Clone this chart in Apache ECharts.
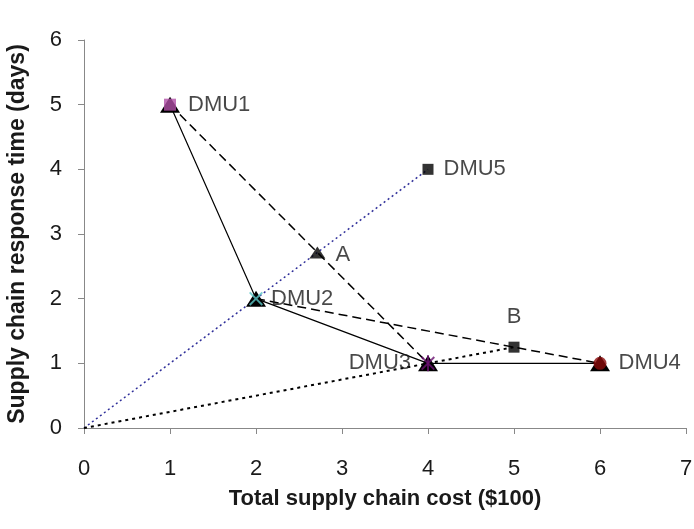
<!DOCTYPE html>
<html>
<head>
<meta charset="utf-8">
<script src="https://cdn.jsdelivr.net/npm/echarts@6/dist/echarts.min.js"></script>
<style>
  html, body { margin: 0; padding: 0; background: #fff; }
  #chart { width: 694px; height: 529px; }
</style>
</head>
<body>
<div id="chart"></div>
<script>
// DMU data (cost in $100, response time in days)
const dmuNames = ['DMU1', 'DMU2', 'DMU3', 'DMU4', 'DMU5'];
const dmuCost = [1, 2, 4, 6, 4];
const dmuTime = [5, 2, 1, 1, 4];

// projection points
const pointA = [2.714, 2.714];
const pointB = [5, 1.25];

// efficient frontier: DMU1 -> DMU2 -> DMU3 -> DMU4
const frontierIdx = [0, 1, 2, 3];

const pt = i => [dmuCost[i], dmuTime[i]];

const xShape = 'path://M0,1L1,0L5,4L9,0L10,1L6,5L10,9L9,10L5,6L1,10L0,9L4,5Z';

var myChart = echarts.init(document.getElementById('chart'));

var font = 'Liberation Sans, Arial, sans-serif';
var textStyle = { color: '#1a1a1a', fontSize: 22, fontFamily: font };

var option = {
  animation: false,
  grid: { left: 84, right: 8, top: 40, bottom: 101, outerBoundsMode: 'none' },
  xAxis: {
    type: 'value', min: 0, max: 7, interval: 1,
    name: 'Total supply chain cost ($100)',
    nameLocation: 'middle', nameGap: 60,
    nameTextStyle: { fontSize: 22, fontWeight: 'bold', color: '#1a1a1a', fontFamily: font },
    axisLine: { lineStyle: { color: '#888' } },
    axisTick: { length: 6, lineStyle: { color: '#888' } },
    axisLabel: Object.assign({ margin: 30 }, textStyle),
    splitLine: { show: false }
  },
  yAxis: {
    type: 'value', min: 0, max: 6, interval: 1,
    name: 'Supply chain response time (days)',
    nameLocation: 'middle', nameGap: 55,
    nameTextStyle: { fontSize: 23, fontWeight: 'bold', color: '#1a1a1a', fontFamily: font },
    axisLine: { show: true, lineStyle: { color: '#888' } },
    axisTick: { show: true, length: 6, lineStyle: { color: '#888' } },
    axisLabel: Object.assign({ margin: 22 }, textStyle),
    splitLine: { show: false }
  },
  series: [
    {
      // blue dotted ray from origin to DMU5
      type: 'line', symbol: 'none',
      lineStyle: { color: '#2e2e99', width: 1.5, type: [2, 3] },
      data: [[0, 0], pt(1), pointA, pt(4)]
    },
    {
      // black dotted ray from origin through DMU3 to B
      type: 'line', symbol: 'none',
      lineStyle: { color: '#000', width: 2, type: [3, 4] },
      data: [[0, 0], pt(2), pointB]
    },
    {
      type: 'line', symbol: 'none',
      lineStyle: { color: '#000', width: 1.5, type: [9, 5] },
      data: [pt(0), pointA, pt(2)]
    },
    {
      type: 'line', symbol: 'none',
      lineStyle: { color: '#000', width: 1.5, type: [9, 5] },
      data: [pt(1), pointB, pt(3)]
    },
    {
      // frontier with triangle markers
      type: 'line', symbol: 'triangle', symbolSize: [20, 16],
      itemStyle: { color: '#000' },
      lineStyle: { color: '#000', width: 1.2 },
      data: frontierIdx.map(pt)
    },
    {
      type: 'scatter', z: 5,
      label: Object.assign({ show: true, formatter: p => p.data.name, distance: 10 }, textStyle),
      data: [
        { name: 'DMU1', value: pt(0), symbol: 'rect', symbolSize: 12, itemStyle: { color: '#b04fa6' }, label: { position: 'right', distance: 12 } },
        { name: 'DMU2', value: pt(1), symbol: xShape, symbolSize: 14, itemStyle: { color: '#5cc7c7' }, label: { position: 'right', distance: 8 } },
        { name: 'DMU3', value: pt(2), symbol: xShape, symbolSize: 14, itemStyle: { color: '#6a1070' }, label: { position: 'left', distance: 10 } },
        { name: 'DMU4', value: pt(3), symbol: 'circle', symbolSize: 13, itemStyle: { color: '#8a0a0a' }, label: { position: 'right', distance: 12 } },
        { name: 'DMU5', value: pt(4), symbol: 'rect', symbolSize: 11, itemStyle: { color: '#000' }, label: { position: 'right', distance: 10 } },
        { name: 'A', value: pointA, symbol: 'triangle', symbolSize: [16, 12], itemStyle: { color: '#000' }, label: { position: 'right', distance: 10, offset: [0, 2] } },
        { name: 'B', value: pointB, symbol: 'rect', symbolSize: 11, itemStyle: { color: '#000' }, label: { position: 'top', distance: 14 } }
      ]
    },
    {
      // vertical stroke of DMU3 asterisk
      type: 'scatter', z: 6, symbol: 'rect', symbolSize: [2, 16],
      itemStyle: { color: '#6a1070' },
      data: [pt(2)]
    }
  ]
};

myChart.setOption(option);
</script>
</body>
</html>
